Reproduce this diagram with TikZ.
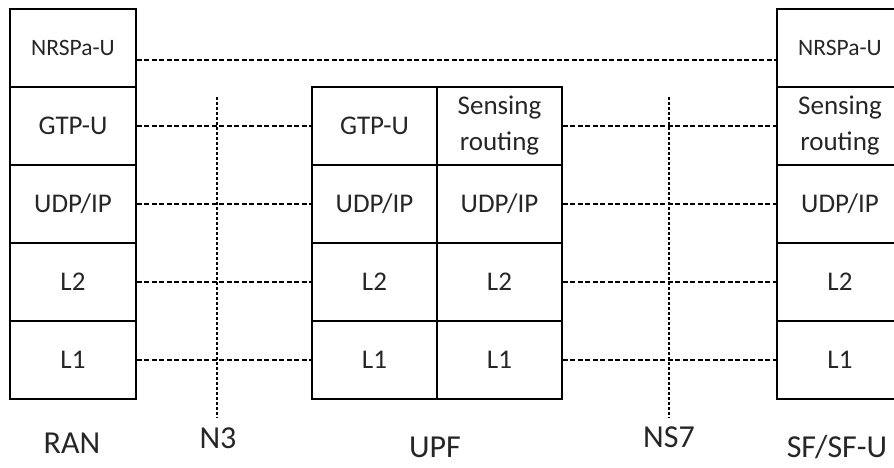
\documentclass[tikz,border=0pt]{standalone}
\usepackage{fontspec}
\setmainfont{Carlito}
\begin{document}
\begin{tikzpicture}[x=1pt,y=-1pt,
  cell/.style={draw, line width=1.7pt, minimum width=126pt, minimum height=78pt,
    inner sep=0pt, align=center, text=black!85, font=\fontsize{27}{36}\selectfont},
  small/.style={font=\fontsize{23.5}{28}\selectfont},
  link/.style={line width=2pt, dash pattern=on 5pt off 2.5pt},
  refline/.style={line width=2pt, dash pattern=on 3pt off 2pt},
  caption/.style={anchor=base, inner sep=0pt, text=black!85, font=\fontsize{32}{38}\selectfont}]
\useasboundingbox (0,0) rectangle (894,467);

% RAN protocol stack
\node[cell, small] (ran1) at (73,48)  {NRSPa-U};
\node[cell] (ran2) at (73,126) {GTP-U};
\node[cell] (ran3) at (73,204) {UDP/IP};
\node[cell] (ran4) at (73,282) {L2};
\node[cell] (ran5) at (73,360) {L1};

% UPF protocol stacks (N3 side and NS7 side)
\node[cell, minimum width=125pt] (upfa1) at (374.5,126) {GTP-U};
\node[cell, minimum width=125pt] (upfa2) at (374.5,204) {UDP/IP};
\node[cell, minimum width=125pt] (upfa3) at (374.5,282) {L2};
\node[cell, minimum width=125pt] (upfa4) at (374.5,360) {L1};
\node[cell, minimum width=125pt] (upfb1) at (499.5,126) {Sensing\\routing};
\node[cell, minimum width=125pt] (upfb2) at (499.5,204) {UDP/IP};
\node[cell, minimum width=125pt] (upfb3) at (499.5,282) {L2};
\node[cell, minimum width=125pt] (upfb4) at (499.5,360) {L1};

% SF/SF-U protocol stack
\node[cell, small] (sf1) at (840,48)  {NRSPa-U};
\node[cell] (sf2) at (840,126) {Sensing\\routing};
\node[cell] (sf3) at (840,204) {UDP/IP};
\node[cell] (sf4) at (840,282) {L2};
\node[cell] (sf5) at (840,360) {L1};

% peer-to-peer layer links
\draw[link] ([yshift=-12pt]ran1.east) -- ([yshift=-12pt]sf1.west);
\draw[link] (ran2.east) -- (upfa1.west);
\draw[link] (ran3.east) -- (upfa2.west);
\draw[link] (ran4.east) -- (upfa3.west);
\draw[link] (ran5.east) -- (upfa4.west);
\draw[link] (upfb1.east) -- (sf2.west);
\draw[link] (upfb2.east) -- (sf3.west);
\draw[link] (upfb3.east) -- (sf4.west);
\draw[link] (upfb4.east) -- (sf5.west);

% reference points
\coordinate (n3top) at (217,97);
\coordinate (n3bot) at (217,418);
\coordinate (ns7top) at (669,97);
\coordinate (ns7bot) at (669,418);
\draw[refline] (n3top) -- (n3bot);
\draw[refline] (ns7top) -- (ns7bot);

% captions
\node[caption] (ranlab) at (72,453)  {RAN};
\node[caption] (n3lab)  at (218,448) {N3};
\node[caption] (upflab) at (435,457) {UPF};
\node[caption] (ns7lab) at (669,447) {NS7};
\node[caption] (sflab)  at (837,457) {SF/SF-U};
\end{tikzpicture}
\end{document}
